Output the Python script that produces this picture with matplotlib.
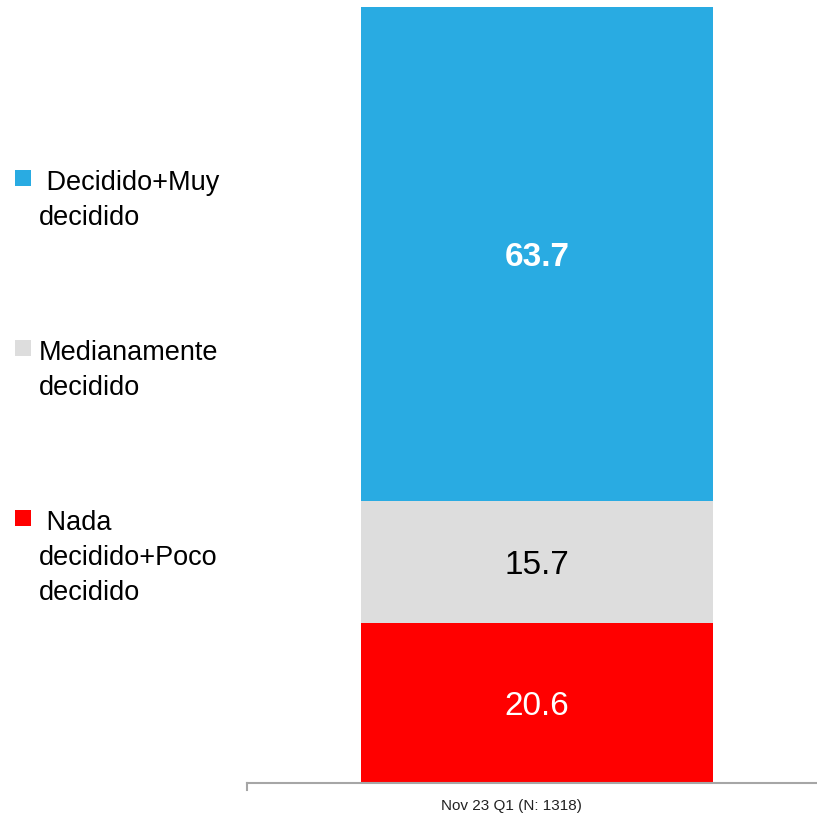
import matplotlib.pyplot as plt
from matplotlib.patches import Rectangle

plt.rcParams['font.family'] = ['Liberation Sans', 'DejaVu Sans']

# data
period = "Nov 23 Q1 (N: 1318)"
categories = ["Nada\ndecidido+Poco\ndecidido", "Medianamente\ndecidido", "Decidido+Muy\ndecidido"]
values = [20.6, 15.7, 63.7]
colors = ["#FF0000", "#DDDDDD", "#29ABE2"]
label_colors = ["white", "black", "white"]
label_weights = ["normal", "normal", "bold"]

W, H = 817, 821
fig = plt.figure(figsize=(W / 100, H / 100), dpi=100)
ax = fig.add_axes([247 / W, 38 / H, 570 / W, 776 / H])

bottom = 0
for val, col, lc, lw in zip(values, colors, label_colors, label_weights):
    ax.bar(0, val, bottom=bottom, width=352 / 580, color=col, linewidth=0)
    ax.text(0, bottom + val / 2, f"{val:.1f}", ha='center', va='center_baseline',
            color=lc, fontsize=24, fontweight=lw)
    bottom += val

ax.set_xlim(-0.5, -0.5 + 570 / 580)
ax.set_ylim(0, 100)
ax.set_yticks([])
ax.set_xticks([])
for s in ['top', 'right', 'left']:
    ax.spines[s].set_visible(False)
ax.spines['bottom'].set_color('#A6A6A6')
ax.spines['bottom'].set_linewidth(1.5)
ax.plot([-0.5, -0.5], [0, -0.9], color='#A6A6A6', lw=1.5, clip_on=False)
ax.text(-26 / 580, -3.0, period, ha='center', va='center', fontsize=11, color='#222222')

# manual legend (top to bottom)
legend_rows = [(categories[2], colors[2], 178), (categories[1], colors[1], 348), (categories[0], colors[0], 518)]
for text, col, yc in legend_rows:
    fig.patches.append(Rectangle((15 / W, 1 - (yc + 8) / H), 16 / W, 16 / H,
                                 transform=fig.transFigure, facecolor=col, edgecolor='none'))
    lines = text.split("\n")
    first = lines[0] if col == colors[1] else " " + lines[0]
    fig.text(39 / W, 1 - (yc - 8) / H, "\n".join([first] + lines[1:]), ha='left', va='top',
             fontsize=19.5, color='black', linespacing=1.45)

fig.savefig("out.png", dpi=100)
